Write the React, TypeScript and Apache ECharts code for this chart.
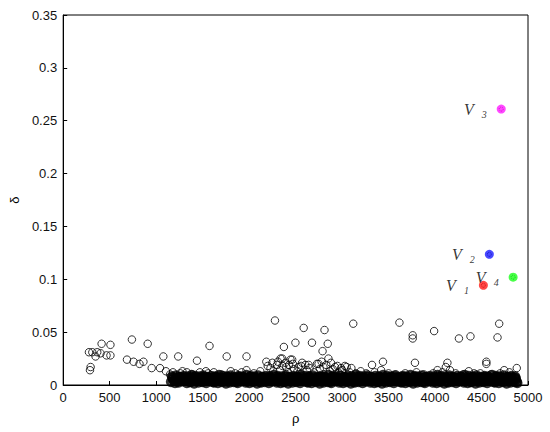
import React, { useEffect, useRef } from "react";
import * as echarts from "echarts";

// Tick settings
const xTicks = { min: 0, max: 5000, interval: 500 };
const yTicks = { min: 0, max: 0.35, interval: 0.05 };

// Sparse (outlying) points [rho, delta]
const outliers: number[][] = [
  [277, 0.031], [288, 0.014], [295, 0.017], [313, 0.031], [348, 0.027], [366, 0.031],
  [402, 0.030], [413, 0.039], [466, 0.028], [508, 0.038], [508, 0.028], [686, 0.024],
  [739, 0.043], [757, 0.022], [821, 0.020], [863, 0.022], [909, 0.039], [952, 0.016],
  [1041, 0.016], [1077, 0.027], [1105, 0.013], [1150, 0.010], [1237, 0.027], [1283, 0.013],
  [1439, 0.023], [1535, 0.013], [1574, 0.037], [1759, 0.027], [1802, 0.013], [1972, 0.027],
  [1972, 0.014], [2185, 0.022], [2278, 0.061], [2338, 0.025], [2374, 0.036], [2356, 0.025],
  [2445, 0.024], [2463, 0.024], [2498, 0.040], [2587, 0.054], [2605, 0.019], [2676, 0.040],
  [2747, 0.020], [2790, 0.032], [2811, 0.052], [2846, 0.039], [2853, 0.025], [2924, 0.017],
  [3049, 0.017], [3120, 0.058], [3322, 0.019], [3440, 0.022], [3617, 0.059], [3760, 0.047],
  [3760, 0.044], [3784, 0.021], [3990, 0.051], [4026, 0.014], [4116, 0.017], [4133, 0.021],
  [4221, 0.011], [4257, 0.044], [4363, 0.013], [4381, 0.046], [4488, 0.011], [4552, 0.022],
  [4552, 0.020], [4672, 0.045], [4690, 0.058], [4744, 0.014], [4879, 0.016],
];

// Upper fringe of the dense band [rho, delta]
const fringe: number[][] = [
  [1180, 0.012], [1260, 0.011], [1330, 0.012], [1390, 0.010], [1470, 0.012], [1560, 0.011],
  [1620, 0.012], [1700, 0.010], [1850, 0.011], [1920, 0.012], [2050, 0.011], [2120, 0.013],
  [2200, 0.018], [2230, 0.016], [2250, 0.021], [2260, 0.013], [2300, 0.019], [2310, 0.022],
  [2330, 0.014], [2360, 0.018], [2390, 0.021], [2400, 0.017], [2420, 0.012], [2430, 0.019],
  [2470, 0.020], [2480, 0.015], [2520, 0.013], [2530, 0.017], [2560, 0.018], [2570, 0.021],
  [2620, 0.014], [2640, 0.019], [2650, 0.016], [2700, 0.012], [2730, 0.020], [2760, 0.015],
  [2780, 0.022], [2800, 0.017], [2830, 0.019], [2870, 0.013], [2880, 0.021], [2900, 0.015],
  [2950, 0.018], [2960, 0.012], [2990, 0.016], [3000, 0.014], [3030, 0.018], [3080, 0.012],
  [3100, 0.016], [3150, 0.011], [3200, 0.013], [3260, 0.011], [3350, 0.012], [3420, 0.014],
  [3500, 0.011], [3580, 0.010], [3680, 0.011], [3800, 0.012], [3880, 0.010], [3980, 0.011],
  [4080, 0.012], [4160, 0.014], [4300, 0.010], [4420, 0.011], [4600, 0.010], [4700, 0.011],
  [4800, 0.012],
];

// Dense band, row at delta ~0.0025
const bandA: number[][] = [
  [1160, .003], [1203, .002], [1241, .0025], [1286, .0035], [1330, .002], [1372, .003], [1409, .0015],
  [1455, .0025], [1497, .003], [1538, .002], [1583, .0035], [1622, .0025], [1664, .002], [1708, .003],
  [1751, .0015], [1790, .0025], [1834, .003], [1877, .002], [1915, .0035], [1962, .0025], [2003, .002],
  [2041, .003], [2086, .0015], [2129, .0025], [2170, .003], [2212, .002], [2253, .0035], [2297, .0025],
  [2339, .002], [2381, .003], [2420, .0015], [2466, .0025], [2507, .003], [2548, .002], [2591, .0035],
  [2633, .0025], [2672, .002], [2716, .003], [2759, .0015], [2800, .0025], [2843, .003], [2884, .002],
  [2925, .0035], [2968, .0025], [3011, .002], [3052, .003], [3094, .0015], [3137, .0025], [3178, .003],
  [3221, .002], [3260, .0035], [3304, .0025], [3347, .002], [3388, .003], [3430, .0015], [3471, .0025],
  [3515, .003], [3556, .002], [3598, .0035], [3640, .0025], [3681, .002], [3723, .003], [3765, .0015],
  [3808, .0025], [3849, .003], [3890, .002], [3934, .0035], [3975, .0025], [4017, .002], [4058, .003],
  [4100, .0015], [4143, .0025], [4184, .003], [4226, .002], [4267, .0035], [4310, .0025], [4351, .002],
  [4393, .003], [4436, .0015], [4477, .0025], [4519, .003], [4560, .002], [4603, .0035], [4644, .0025],
  [4686, .002], [4728, .003], [4770, .0015], [4811, .0025], [4853, .003], [4885, .002],
];

// Dense band, row at delta ~0.004
const bandD: number[][] = [
  [1190, .004], [1233, .0035], [1271, .0045], [1316, .004], [1360, .003], [1402, .0045], [1439, .004],
  [1485, .0035], [1527, .0045], [1568, .004], [1613, .003], [1652, .0045], [1694, .004], [1738, .0035],
  [1781, .0045], [1820, .004], [1864, .003], [1907, .0045], [1945, .004], [1992, .0035], [2033, .0045],
  [2071, .004], [2116, .003], [2159, .0045], [2200, .004], [2242, .0035], [2283, .0045], [2327, .004],
  [2369, .003], [2411, .0045], [2450, .004], [2496, .0035], [2537, .0045], [2578, .004], [2621, .003],
  [2663, .0045], [2702, .004], [2746, .0035], [2789, .0045], [2830, .004], [2873, .003], [2914, .0045],
  [2955, .004], [2998, .0035], [3041, .0045], [3082, .004], [3124, .003], [3167, .0045], [3208, .004],
  [3251, .0035], [3290, .0045], [3334, .004], [3377, .003], [3418, .0045], [3460, .004], [3501, .0035],
  [3545, .0045], [3586, .004], [3628, .003], [3670, .0045], [3711, .004], [3753, .0035], [3795, .0045],
  [3838, .004], [3879, .003], [3920, .0045], [3964, .004], [4005, .0035], [4047, .0045], [4088, .004],
  [4130, .003], [4173, .0045], [4214, .004], [4256, .0035], [4297, .0045], [4340, .004], [4381, .003],
  [4423, .0045], [4466, .004], [4507, .0035], [4549, .0045], [4590, .004], [4633, .003], [4674, .0045],
  [4716, .004], [4758, .0035], [4800, .0045], [4841, .004], [4878, .003],
];

// Dense band, row at delta ~0.0055
const bandB: number[][] = [
  [1181, .0055], [1222, .005], [1265, .006], [1308, .0045], [1350, .0055], [1390, .0065], [1433, .005],
  [1476, .0055], [1517, .006], [1561, .0045], [1603, .0055], [1643, .005], [1686, .0065], [1729, .0055],
  [1770, .005], [1812, .006], [1855, .0045], [1896, .0055], [1940, .0065], [1982, .005], [2022, .0055],
  [2064, .006], [2108, .0045], [2150, .0055], [2191, .005], [2233, .0065], [2275, .0055], [2318, .005],
  [2360, .006], [2400, .0045], [2443, .0055], [2487, .0065], [2528, .005], [2570, .0055], [2612, .006],
  [2652, .0045], [2694, .0055], [2738, .005], [2780, .0065], [2821, .0055], [2863, .005], [2905, .006],
  [2947, .0045], [2990, .0055], [3031, .0065], [3073, .005], [3115, .0055], [3157, .006], [3199, .0045],
  [3240, .0055], [3282, .005], [3325, .0065], [3367, .0055], [3409, .005], [3450, .006], [3493, .0045],
  [3535, .0055], [3577, .0065], [3619, .005], [3660, .0055], [3702, .006], [3744, .0045], [3786, .0055],
  [3828, .005], [3870, .0065], [3912, .0055], [3954, .005], [3996, .006], [4038, .0045], [4079, .0055],
  [4121, .0065], [4163, .005], [4205, .0055], [4247, .006], [4289, .0045], [4331, .0055], [4372, .005],
  [4414, .0065], [4456, .0055], [4498, .005], [4540, .006], [4582, .0045], [4624, .0055], [4665, .0065],
  [4707, .005], [4749, .0055], [4791, .006], [4832, .0045], [4870, .0055],
];

// Dense band, row at delta ~0.007
const bandE: number[][] = [
  [1175, .007], [1218, .0065], [1256, .0075], [1301, .007], [1345, .0065], [1387, .0075], [1424, .007],
  [1470, .0065], [1512, .0075], [1553, .007], [1598, .0065], [1637, .0075], [1679, .007], [1723, .0065],
  [1766, .0075], [1805, .007], [1849, .0065], [1892, .0075], [1930, .007], [1977, .0065], [2018, .0075],
  [2056, .007], [2101, .0065], [2144, .0075], [2185, .007], [2227, .0065], [2268, .0075], [2312, .007],
  [2354, .0065], [2396, .0075], [2435, .007], [2481, .0065], [2522, .0075], [2563, .007], [2606, .0065],
  [2648, .0075], [2687, .007], [2731, .0065], [2774, .0075], [2815, .007], [2858, .0065], [2899, .0075],
  [2940, .007], [2983, .0065], [3026, .0075], [3067, .007], [3109, .0065], [3152, .0075], [3193, .007],
  [3236, .0065], [3275, .0075], [3319, .007], [3362, .0065], [3403, .0075], [3445, .007], [3486, .0065],
  [3530, .0075], [3571, .007], [3613, .0065], [3655, .0075], [3696, .007], [3738, .0065], [3780, .0075],
  [3823, .007], [3864, .0065], [3905, .0075], [3949, .007], [3990, .0065], [4032, .0075], [4073, .007],
  [4115, .0065], [4158, .0075], [4199, .007], [4241, .0065], [4282, .0075], [4325, .007], [4366, .0065],
  [4408, .0075], [4451, .007], [4492, .0065], [4534, .0075], [4575, .007], [4618, .0065], [4659, .0075],
  [4701, .007], [4743, .0065], [4785, .0075], [4826, .007], [4866, .0065],
];

// Dense band, row at delta ~0.0085
const bandC: number[][] = [
  [1170, .008], [1214, .009], [1255, .0075], [1297, .0085], [1341, .008], [1380, .0095], [1422, .0085],
  [1466, .008], [1507, .009], [1550, .0075], [1592, .0085], [1634, .008], [1676, .0095], [1718, .0085],
  [1760, .008], [1802, .009], [1845, .0075], [1886, .0085], [1928, .008], [1971, .0095], [2013, .0085],
  [2055, .008], [2097, .009], [2139, .0075], [2181, .0085], [2222, .008], [2265, .0095], [2307, .0085],
  [2349, .008], [2392, .009], [2432, .0075], [2475, .0085], [2517, .008], [2559, .0095], [2601, .0085],
  [2643, .008], [2684, .009], [2727, .0075], [2769, .0085], [2811, .008], [2853, .0095], [2895, .0085],
  [2937, .008], [2979, .009], [3021, .0075], [3063, .0085], [3105, .008], [3147, .0095], [3189, .0085],
  [3231, .008], [3272, .009], [3315, .0075], [3357, .0085], [3399, .008], [3441, .0095], [3482, .0085],
  [3525, .008], [3567, .009], [3609, .0075], [3651, .0085], [3692, .008], [3735, .0095], [3777, .0085],
  [3819, .008], [3860, .009], [3902, .0075], [3944, .0085], [3986, .008], [4028, .0095], [4069, .0085],
  [4111, .008], [4153, .009], [4195, .0075], [4237, .0085], [4279, .008], [4321, .0095], [4362, .0085],
  [4404, .008], [4446, .009], [4488, .0075], [4530, .0085], [4572, .008], [4614, .0095], [4655, .0085],
  [4697, .008], [4739, .009], [4781, .0075], [4822, .0085], [4862, .008],
];

// Highlighted centres
const centerNames = ["1", "2", "3", "4"];
const centerRho = [4520, 4584, 4712, 4840];
const centerDelta = [0.0943, 0.1236, 0.261, 0.102];
const centerColors = ["#ff1a1a", "#1a1aff", "#ff1aff", "#1aff1a"];
const centerInner = ["#c80000", "#0000b4", "#c800c8", "#00c800"];

const sans = "Liberation Sans, Arial, sans-serif";
const serif = "Liberation Serif, Times New Roman, serif";

export default function App() {
  const ref = useRef<HTMLDivElement>(null);
  useEffect(() => {
    if (!ref.current) return;
    const chart = echarts.init(ref.current, undefined, { renderer: "svg" });
    const openCircle = {
      type: "scatter",
      symbol: "circle",
      symbolSize: 7.5,
      itemStyle: { color: "rgba(0,0,0,0)", borderColor: "#000", borderWidth: 1 },
      silent: true,
    };
    chart.setOption({
      animation: false,
      backgroundColor: "#fff",
      grid: {
        left: 59, right: 22, top: 15, bottom: 47,
        show: true, borderColor: "#000", borderWidth: 1,
      },
      xAxis: {
        type: "value",
        min: xTicks.min, max: xTicks.max, interval: xTicks.interval,
        name: "ρ", nameLocation: "middle", nameGap: 27,
        nameTextStyle: { fontFamily: sans, fontSize: 13, color: "#000" },
        axisLine: { lineStyle: { color: "#000", width: 1 } },
        axisTick: { inside: true, length: 4, lineStyle: { color: "#000" } },
        axisLabel: {
          fontFamily: sans, fontSize: 13, color: "#111", margin: 6,
          formatter: (v: number) => String(v),
        },
        splitLine: { show: false },
      },
      yAxis: {
        type: "value",
        min: yTicks.min, max: yTicks.max, interval: yTicks.interval,
        name: "δ", nameLocation: "middle", nameGap: 37,
        nameTextStyle: { fontFamily: sans, fontSize: 13, color: "#000" },
        axisLine: { lineStyle: { color: "#000", width: 1 } },
        axisTick: { inside: true, length: 4, lineStyle: { color: "#000" } },
        axisLabel: { fontFamily: sans, fontSize: 13, color: "#111", margin: 6 },
        splitLine: { show: false },
      },
      series: [
        { ...openCircle, data: [...outliers, ...fringe] },
        {
          ...openCircle,
          itemStyle: { color: "rgba(0,0,0,0)", borderColor: "#000", borderWidth: 3 },
          data: [...bandA, ...bandD, ...bandB, ...bandE, ...bandC],
        },
        {
          type: "scatter",
          symbol: "circle",
          symbolSize: 9,
          data: centerRho.map((r, i) => ({
            value: [r, centerDelta[i]],
            name: centerNames[i],
            itemStyle: { color: centerColors[i] },
          })),
          label: {
            show: true,
            position: "left",
            distance: 10,
            formatter: (p: any) => `{v|V}{s|${p.name}}`,
            rich: {
              v: { fontFamily: serif, fontStyle: "italic", fontSize: 16, color: "#000" },
              s: { fontFamily: serif, fontStyle: "italic", fontSize: 10, color: "#000", padding: [10, 0, 0, 8] },
            },
          },
        },
        {
          type: "scatter",
          symbol: "circle",
          symbolSize: 4,
          silent: true,
          data: centerRho.map((r, i) => ({
            value: [r, centerDelta[i]],
            itemStyle: { color: "rgba(0,0,0,0)", borderColor: centerInner[i], borderWidth: 1, borderType: "dotted" },
          })),
        },
      ],
    });
    return () => chart.dispose();
  }, []);
  return (
    <div
      ref={ref}
      style={{ position: "fixed", left: 0, top: 0, width: 550, height: 432 }}
    />
  );
}
